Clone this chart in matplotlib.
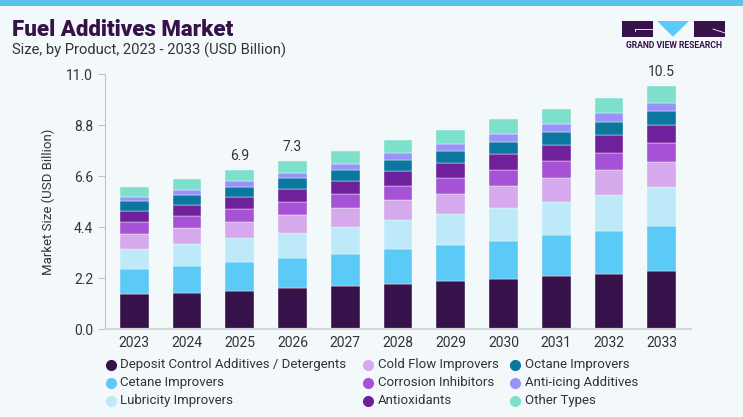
import matplotlib
matplotlib.use("Agg")
import matplotlib.pyplot as plt
from matplotlib.patches import Rectangle, Polygon
from matplotlib.lines import Line2D
import numpy as np

years = ["2023", "2024", "2025", "2026", "2027", "2028", "2029", "2030", "2031", "2032", "2033"]
series_names = [
    "Deposit Control Additives / Detergents",
    "Cetane Improvers",
    "Lubricity Improvers",
    "Cold Flow Improvers",
    "Corrosion Inhibitors",
    "Antioxidants",
    "Octane Improvers",
    "Anti-icing Additives",
    "Other Types",
]
deposit = [1.50, 1.58, 1.67, 1.77, 1.87, 1.97, 2.07, 2.16, 2.28, 2.39, 2.51]
cetane = [1.10, 1.15, 1.23, 1.32, 1.39, 1.47, 1.57, 1.64, 1.77, 1.83, 1.93]
lubricity = [0.88, 0.95, 1.02, 1.05, 1.14, 1.25, 1.32, 1.42, 1.45, 1.58, 1.67]
cold_flow = [0.64, 0.68, 0.71, 0.78, 0.82, 0.86, 0.89, 0.95, 1.02, 1.05, 1.11]
corrosion = [0.51, 0.51, 0.56, 0.58, 0.61, 0.64, 0.69, 0.70, 0.71, 0.76, 0.81]
antioxidants = [0.46, 0.48, 0.51, 0.54, 0.57, 0.63, 0.64, 0.68, 0.71, 0.75, 0.76]
octane = [0.42, 0.43, 0.42, 0.47, 0.48, 0.47, 0.51, 0.54, 0.56, 0.57, 0.61]
anti_icing = [0.19, 0.23, 0.25, 0.23, 0.26, 0.29, 0.29, 0.32, 0.33, 0.37, 0.36]
other = [0.45, 0.47, 0.48, 0.51, 0.55, 0.57, 0.61, 0.64, 0.68, 0.68, 0.73]
labelled = {"2025": "6.9", "2026": "7.3", "2033": "10.5"}
yticks = [0.0, 2.2, 4.4, 6.6, 8.8, 11.0]

series = [deposit, cetane, lubricity, cold_flow, corrosion, antioxidants, octane, anti_icing, other]
colors = ["#37114A", "#5BCAF6", "#BDE9F9", "#D5A9EC", "#A651D6", "#6F219B",
          "#0B779E", "#9A92FB", "#7DE0CD"]

BG = "#F3F8FB"
DARK = "#37114A"
TXT = "#333333"
plt.rcParams['font.family'] = ['Roboto', 'DejaVu Sans']

fig = plt.figure(figsize=(7.43, 4.17), dpi=100, facecolor=BG)
ax = fig.add_axes([105/743, 1-329.3/417, (691-105)/743, (329.3-74)/417])
ax.set_facecolor(BG)

x = np.arange(len(years))
bottom = np.zeros(len(years))
for vals, col, name in zip(series, colors, series_names):
    v = np.array(vals)
    ax.bar(x, v, width=0.545, bottom=bottom, color=col, edgecolor=BG, linewidth=0.3, label=name)
    bottom += v

for i, yr in enumerate(years):
    if yr in labelled:
        ax.annotate(labelled[yr], (x[i], bottom[i]), xytext=(0, 5), textcoords="offset points",
                    ha="center", va="bottom", fontsize=10, color=TXT)

ax.set_xlim(-0.556, len(years) - 1 + 0.556)
ax.set_ylim(0, 11.0)
ax.set_yticks(yticks)
ax.set_yticklabels([f"{t:.1f}" for t in yticks])
ax.set_xticks(x)
ax.set_xticklabels(years)
ax.tick_params(axis='y', length=5, width=0.8, color="#BFC3C6", pad=3.5, labelsize=10, labelcolor=TXT)
ax.tick_params(axis='x', length=0, pad=5, labelsize=10, labelcolor=TXT)
for s in ["top", "right"]:
    ax.spines[s].set_visible(False)
ax.spines["left"].set_color("#BFC3C6")
ax.spines["left"].set_linewidth(0.8)
ax.spines["bottom"].set_color("#D5D8DB")
ax.spines["bottom"].set_linewidth(1.6)
ax.set_ylabel("Market Size (USD Billion)", fontsize=9.5, color=TXT, labelpad=8)

# top stripe
fig.patches.append(Rectangle((0, 1-6/417), 1, 6/417, transform=fig.transFigure,
                             facecolor="#5CC3EC", edgecolor="none"))

# titles
fig.text(12/743, 1-30/417, "Fuel Additives Market", fontsize=16, fontweight="heavy",
         color=DARK, ha="left", va="center")
fig.text(12/743, 1-50.5/417, "Size, by Product, 2023 - 2033 (USD Billion)", fontsize=10.6,
         color=TXT, ha="left", va="center")

# logo
def fx(px):
    return px / 743
def fy(py):
    return 1 - py / 417
fig.patches.append(Rectangle((fx(622), fy(36.7)), fx(652.7) - fx(622), fy(21) - fy(36.7),
                             transform=fig.transFigure, facecolor=DARK, edgecolor="none"))
fig.patches.append(Polygon([(fx(657), fy(21)), (fx(689), fy(21)), (fx(673), fy(36.7))],
                           closed=True, transform=fig.transFigure, facecolor="#5BCAF6", edgecolor="none"))
fig.patches.append(Rectangle((fx(694), fy(36.7)), fx(725) - fx(694), fy(21) - fy(36.7),
                             transform=fig.transFigure, facecolor=DARK, edgecolor="none"))
fig.lines.append(Line2D([fx(635), fx(652.7)], [fy(29), fy(29)], transform=fig.transFigure,
                        color="white", linewidth=0.6))
fig.lines.append(Line2D([fx(635), fx(635)], [fy(29), fy(31)], transform=fig.transFigure,
                        color="white", linewidth=0.6))
fig.lines.append(Line2D([fx(713), fx(725)], [fy(29), fy(33)], transform=fig.transFigure,
                        color="white", linewidth=0.6))
fig.text(fx(673.5), fy(46), "GRAND VIEW RESEARCH", fontsize=6.2, fontweight="bold",
         color=DARK, ha="center", va="center")

# legend (manual)
col_x = [110.5, 368, 515]
row_y = [364.5, 382.5, 400.5]
for i, (name, col) in enumerate(zip(series_names, colors)):
    c, r = divmod(i, 3)
    fig.lines.append(Line2D([fx(col_x[c])], [fy(row_y[r])], transform=fig.transFigure,
                            marker="o", markersize=7, color=col, linestyle="none"))
    fig.text(fx(col_x[c] + 10), fy(row_y[r]), name, fontsize=9.5, color=TXT,
             ha="left", va="center")

fig.savefig("out.png", dpi=100, facecolor=BG)
